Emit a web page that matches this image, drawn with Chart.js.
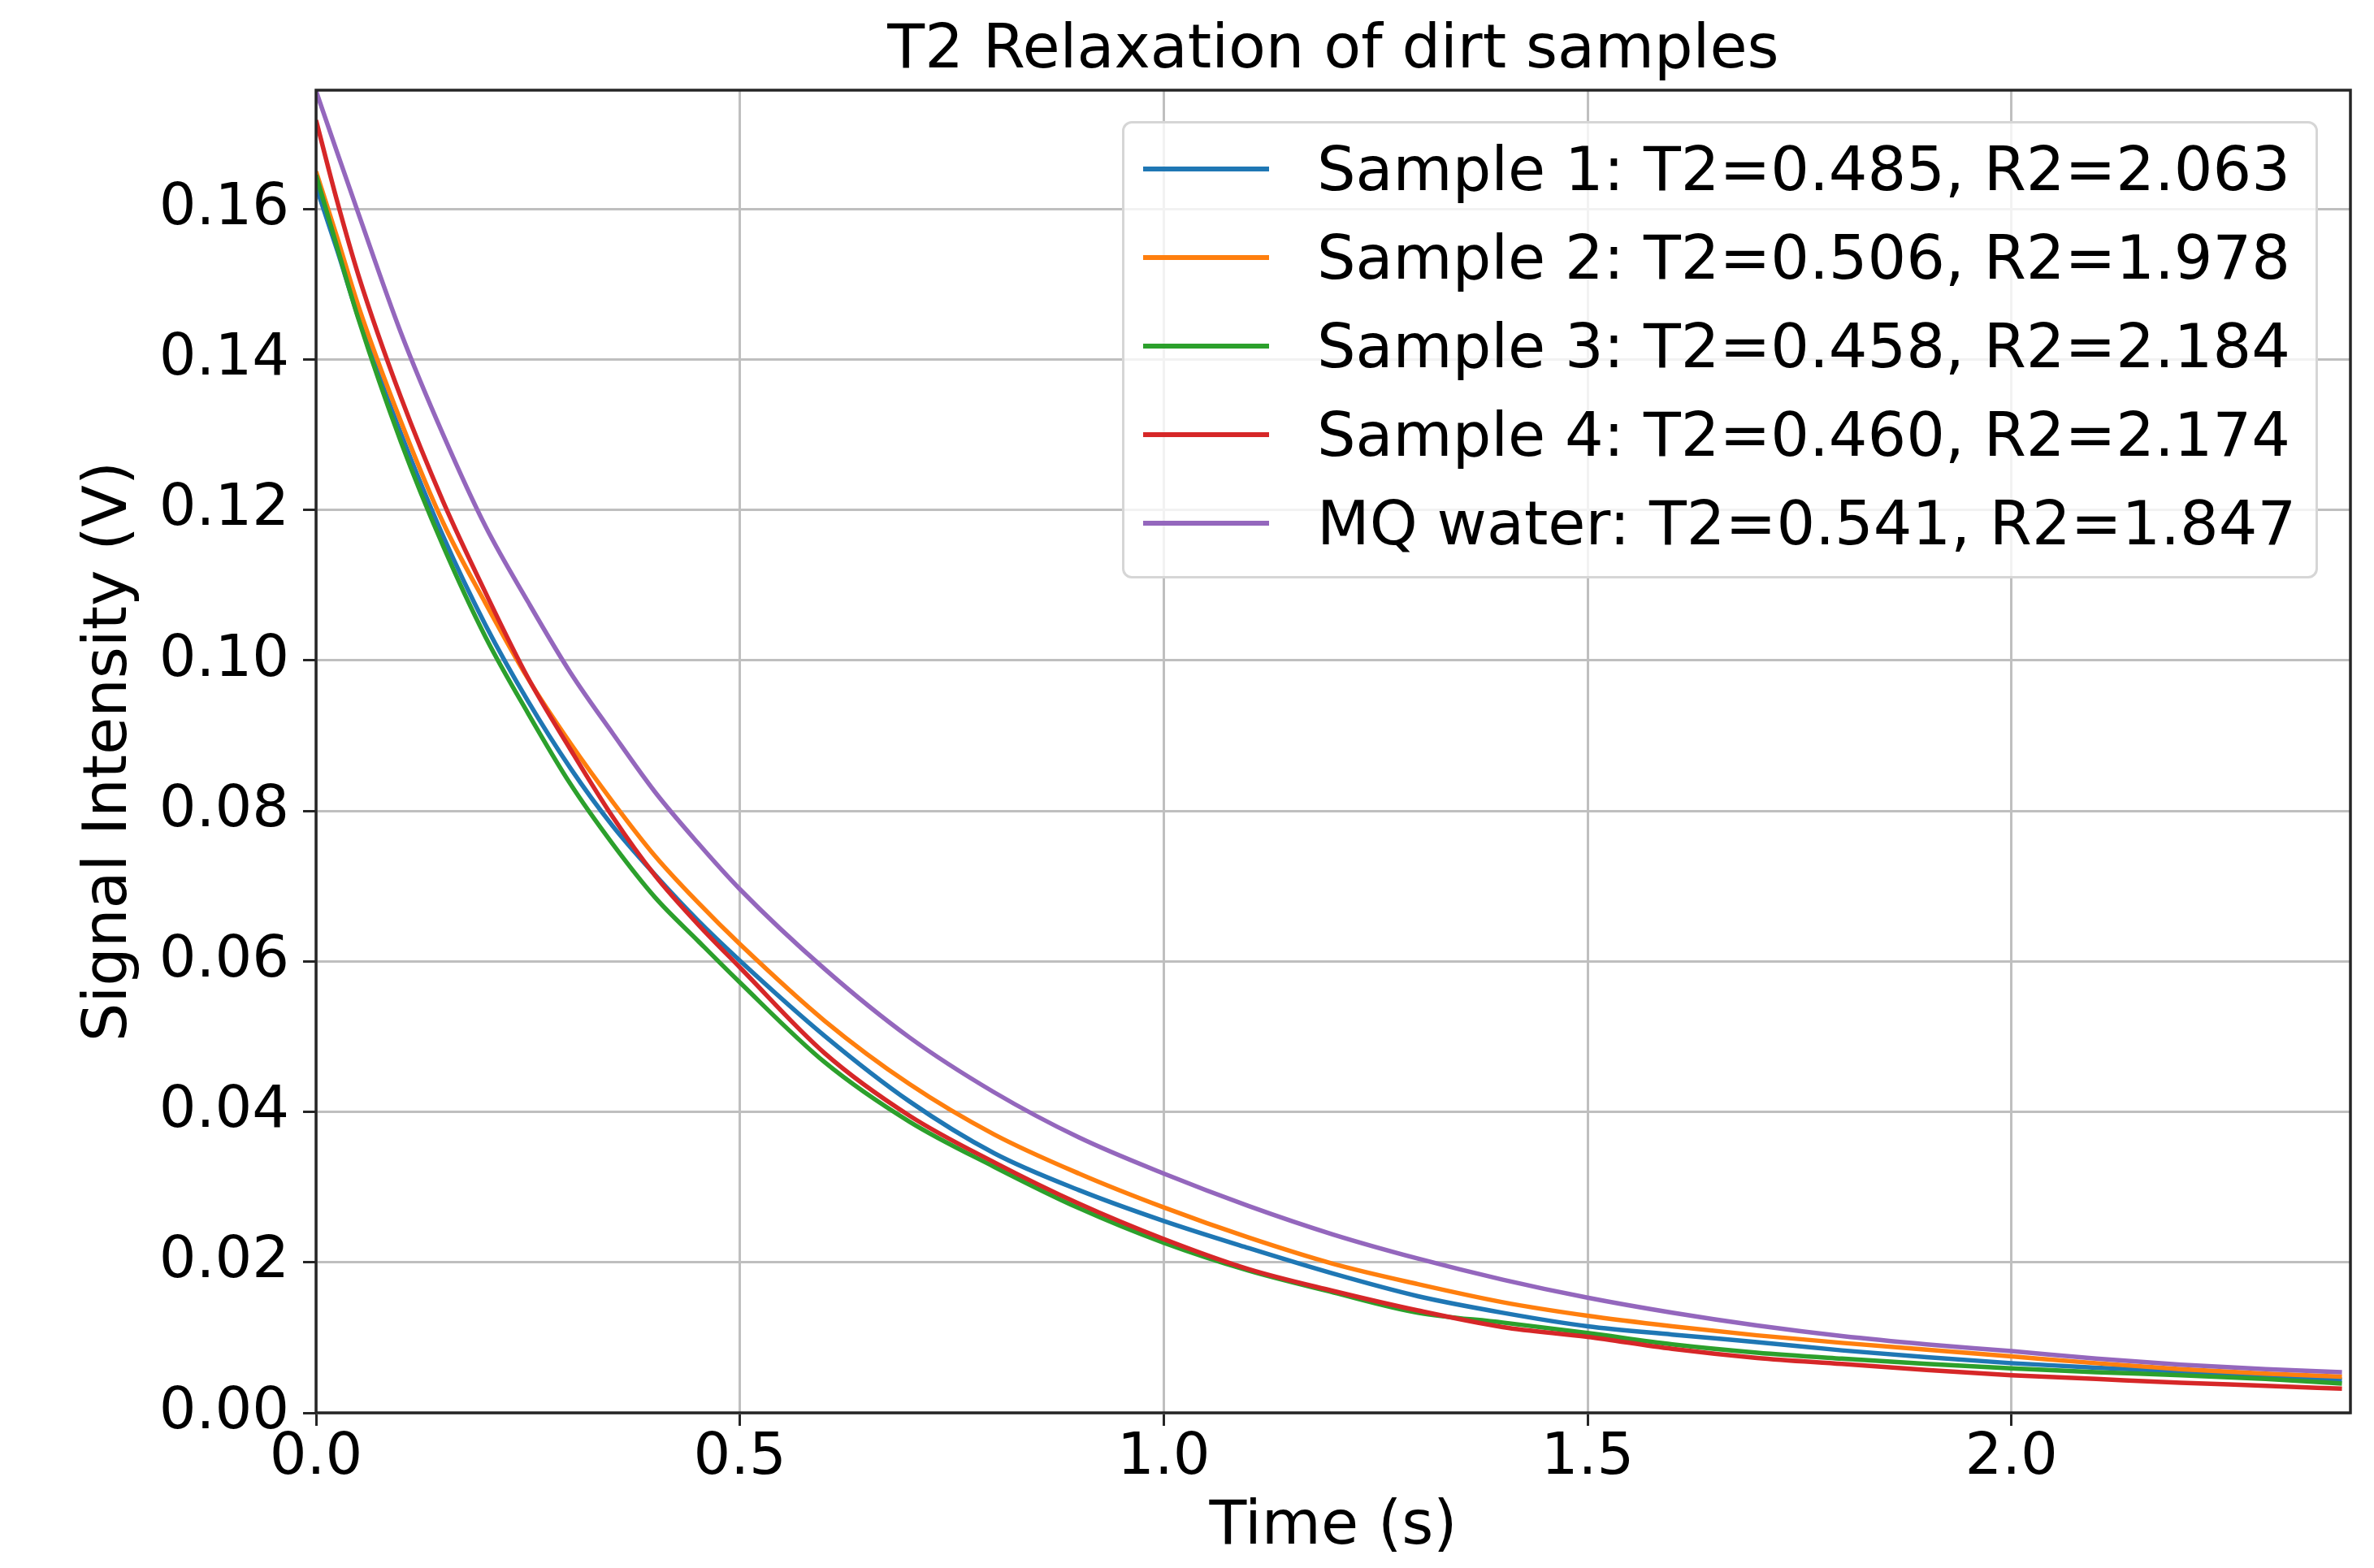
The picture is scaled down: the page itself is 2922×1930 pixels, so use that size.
<!DOCTYPE html>
<html>
<head>
<meta charset="utf-8">
<title>T2 Relaxation of dirt samples</title>
<script src="https://cdn.jsdelivr.net/npm/chart.js@4.4.1/dist/chart.umd.min.js"></script>
<style>
  html, body { margin: 0; padding: 0; background: #fff; }
  #wrap { position: relative; width: 2922px; height: 1930px; }
  #legend {
    position: absolute; left: 1381px; top: 149px;
    width: 1466px; height: 557px;
    border: 3px solid #d6d6d6; border-radius: 12px;
    background: rgba(255, 255, 255, 0.8);
    font-family: "DejaVu Sans"; font-size: 75px; color: #000;
  }
  .row { display: flex; align-items: center; height: 109px; white-space: nowrap; }
  .row:first-child { margin-top: 1px; }
  .swatch { width: 155px; height: 6px; margin-left: 23px; margin-right: 59px; flex: none; }
</style>
</head>
<body>
<div id="wrap">
  <canvas id="t2Chart" width="2922" height="1930"></canvas>
  <div id="legend"></div>
</div>
<script>
// time axis (s) and signals (V)
const times = [0, 0.025, 0.05, 0.1, 0.15, 0.2, 0.25, 0.3, 0.35, 0.4, 0.45, 0.5, 0.6, 0.7, 0.8, 0.9,
  1.0, 1.1, 1.2, 1.3, 1.4, 1.5, 1.6, 1.7, 1.8, 1.9, 2.0, 2.1, 2.2, 2.3, 2.39];

const sample1 = [0.1630, 0.1545, 0.1456, 0.1302, 0.1165, 0.1047, 0.0946, 0.0857, 0.0780, 0.0715, 0.0655, 0.0601, 0.0501, 0.0414, 0.0345, 0.0296,
  0.0255, 0.0219, 0.0185, 0.0155, 0.0133, 0.0115, 0.0104, 0.0094, 0.0083, 0.0074, 0.0066, 0.0060, 0.0055, 0.0049, 0.0044];
const sample2 = [0.1650, 0.1562, 0.1471, 0.1318, 0.1183, 0.1076, 0.0976, 0.0890, 0.0812, 0.0740, 0.0679, 0.0623, 0.0521, 0.0437, 0.0370, 0.0318,
  0.0273, 0.0233, 0.0198, 0.0171, 0.0147, 0.0129, 0.0115, 0.0103, 0.0093, 0.0084, 0.0075, 0.0066, 0.0058, 0.0052, 0.0048];
const sample3 = [0.1645, 0.1549, 0.1454, 0.1291, 0.1152, 0.1031, 0.0930, 0.0836, 0.0756, 0.0685, 0.0628, 0.0572, 0.0466, 0.0387, 0.0327, 0.0272,
  0.0226, 0.0189, 0.0160, 0.0133, 0.0120, 0.0106, 0.0091, 0.0080, 0.0072, 0.0065, 0.0059, 0.0054, 0.0050, 0.0045, 0.0039];
const sample4 = [0.1718, 0.1610, 0.1512, 0.1350, 0.1211, 0.1090, 0.0977, 0.0882, 0.0792, 0.0714, 0.0650, 0.0592, 0.0478, 0.0395, 0.0333, 0.0278,
  0.0231, 0.0191, 0.0162, 0.0136, 0.0114, 0.0101, 0.0085, 0.0073, 0.0065, 0.0057, 0.0050, 0.0045, 0.0040, 0.0036, 0.0032];
const mqWater = [0.1757, 0.1675, 0.1594, 0.1436, 0.1300, 0.1178, 0.1078, 0.0984, 0.0903, 0.0825, 0.0758, 0.0696, 0.0590, 0.0499, 0.0426, 0.0366,
  0.0318, 0.0275, 0.0237, 0.0205, 0.0177, 0.0153, 0.0133, 0.0116, 0.0102, 0.0091, 0.0082, 0.0072, 0.0064, 0.0058, 0.0054];

const seriesLabels = [
  "Sample 1: T2=0.485, R2=2.063",
  "Sample 2: T2=0.506, R2=1.978",
  "Sample 3: T2=0.458, R2=2.184",
  "Sample 4: T2=0.460, R2=2.174",
  "MQ water: T2=0.541, R2=1.847"
];
const seriesColors = ["#1f77b4", "#ff7f0e", "#2ca02c", "#d62728", "#9467bd"];

const xTickValues = [0, 0.5, 1.0, 1.5, 2.0];
const yTickValues = [0, 0.02, 0.04, 0.06, 0.08, 0.10, 0.12, 0.14, 0.16];
const xMax = 2.4;
const yMax = 0.1758;

const chartTitle = "T2 Relaxation of dirt samples";
const xTitle = "Time (s)";
const yTitle = "Signal Intensity (V)";

const FONT = "DejaVu Sans";
const SPINE = "#262626";

const allSeries = [sample1, sample2, sample3, sample4, mqWater];

const datasets = allSeries.map((values, i) => ({
  label: seriesLabels[i],
  data: times.map((t, k) => ({ x: t, y: values[k] })),
  borderColor: seriesColors[i],
  backgroundColor: seriesColors[i],
  borderWidth: 5.5,
  pointRadius: 0,
  cubicInterpolationMode: "monotone",
  order: allSeries.length - i   // last series on top, like the original
}));

// frame round the plot area and the title centred over it
const framePlugin = {
  id: "frame",
  afterDatasetsDraw(chart) {
    const { ctx, chartArea: a } = chart;
    ctx.save();
    ctx.strokeStyle = SPINE;
    ctx.lineWidth = 3.5;
    ctx.strokeRect(a.left, a.top, a.right - a.left, a.bottom - a.top);
    ctx.fillStyle = "#000";
    ctx.font = `75px "${FONT}"`;
    ctx.textAlign = "center";
    ctx.textBaseline = "middle";
    ctx.fillText(chartTitle, (a.left + a.right) / 2, 64);
    ctx.restore();
  }
};

const ctx = document.getElementById("t2Chart").getContext("2d");
new Chart(ctx, {
  type: "line",
  data: { datasets },
  options: {
    responsive: false,
    animation: false,
    devicePixelRatio: 1,
    layout: { padding: { left: 0, right: 29, top: 111, bottom: 0 } },
    plugins: {
      legend: { display: false },
      tooltip: { enabled: false },
      title: { display: false }
    },
    scales: {
      x: {
        type: "linear",
        min: 0,
        max: xMax,
        afterFit(scale) { scale.height = 191; },
        afterBuildTicks(scale) { scale.ticks = xTickValues.map(v => ({ value: v })); },
        ticks: {
          callback: v => Number(v).toFixed(1),
          font: { family: FONT, size: 72, lineHeight: 1 },
          color: "#000",
          padding: 4,
          maxRotation: 0,
          autoSkip: false
        },
        grid: { color: "#bfbfbf", lineWidth: 3, tickLength: 16, tickColor: SPINE, tickWidth: 3 },
        border: { display: false },
        title: {
          display: true,
          text: xTitle,
          color: "#000",
          font: { family: FONT, size: 75, lineHeight: 1 },
          padding: { top: 0, bottom: 12 }
        }
      },
      y: {
        type: "linear",
        min: 0,
        max: yMax,
        afterFit(scale) { scale.width = 389; },
        afterBuildTicks(scale) { scale.ticks = yTickValues.map(v => ({ value: v })); },
        ticks: {
          callback: v => Number(v).toFixed(2),
          font: { family: FONT, size: 72, lineHeight: 1 },
          color: "#000",
          padding: 17,
          autoSkip: false
        },
        grid: { color: "#bfbfbf", lineWidth: 3, tickLength: 16, tickColor: SPINE, tickWidth: 3 },
        border: { display: false },
        title: {
          display: true,
          text: yTitle,
          color: "#000",
          font: { family: FONT, size: 75, lineHeight: 1 },
          padding: { top: 98, bottom: 0 }
        }
      }
    }
  },
  plugins: [framePlugin]
});

// legend box built from the same label/colour lists
const legendEl = document.getElementById("legend");
seriesLabels.forEach((label, i) => {
  const row = document.createElement("div");
  row.className = "row";
  const sw = document.createElement("span");
  sw.className = "swatch";
  sw.style.background = seriesColors[i];
  const txt = document.createElement("span");
  txt.textContent = label;
  row.appendChild(sw);
  row.appendChild(txt);
  legendEl.appendChild(row);
});
</script>
</body>
</html>
